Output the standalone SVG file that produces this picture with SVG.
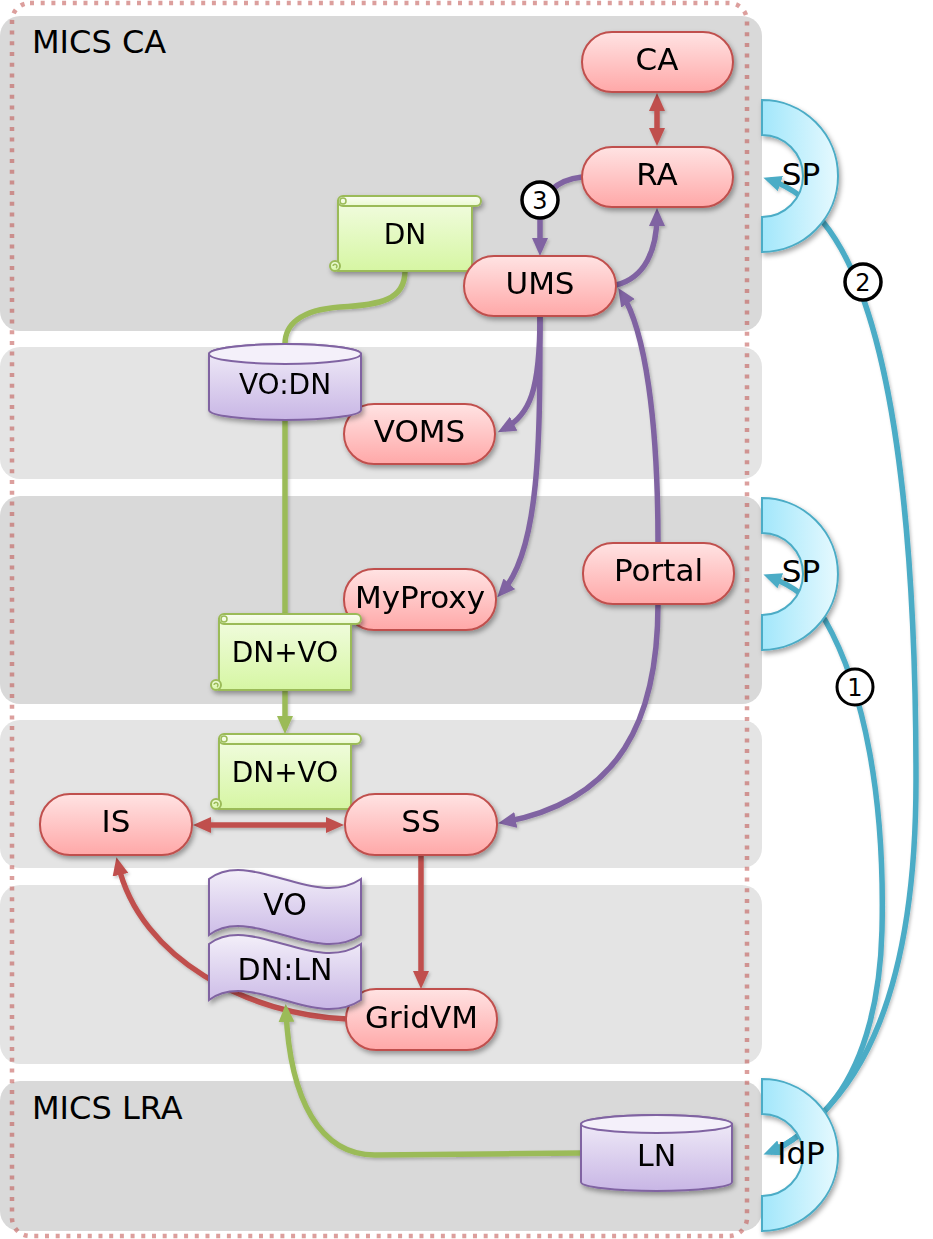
<svg xmlns="http://www.w3.org/2000/svg" width="933" height="1239" viewBox="0 0 933 1239">
  <defs>
    <linearGradient id="gPill" x1="0" y1="0" x2="0" y2="1">
      <stop offset="0" stop-color="#ffe3e3"/>
      <stop offset="1" stop-color="#ffa8a8"/>
    </linearGradient>
    <linearGradient id="gScroll" x1="0" y1="0" x2="0" y2="1">
      <stop offset="0" stop-color="#f1fcdf"/>
      <stop offset="1" stop-color="#d6f6a3"/>
    </linearGradient>
    <linearGradient id="gBar" x1="0" y1="0" x2="0" y2="1">
      <stop offset="0" stop-color="#fafef2"/>
      <stop offset="1" stop-color="#eafad0"/>
    </linearGradient>
    <linearGradient id="gLav" x1="0" y1="0" x2="0" y2="1">
      <stop offset="0" stop-color="#f3eff9"/>
      <stop offset="1" stop-color="#c8b6e5"/>
    </linearGradient>
    <linearGradient id="gRing" x1="0" y1="0" x2="1" y2="0">
      <stop offset="0" stop-color="#a2e7fb"/>
      <stop offset="1" stop-color="#e6f9fe"/>
    </linearGradient>
    <filter id="sh" x="-20%" y="-20%" width="140%" height="150%">
      <feDropShadow dx="2" dy="3" stdDeviation="2.5" flood-color="#000" flood-opacity="0.35"/>
    </filter>
    <filter id="shl" x="-10%" y="-10%" width="120%" height="120%">
      <feDropShadow dx="1.5" dy="2" stdDeviation="1.5" flood-color="#000" flood-opacity="0.22"/>
    </filter>
    <marker id="aRed" viewBox="0 0 18 16" refX="11" refY="8" markerWidth="18" markerHeight="16" markerUnits="userSpaceOnUse" orient="auto-start-reverse">
      <path d="M0,0 L18,8 L0,16 z" fill="#c0504d"/>
    </marker>
    <marker id="aPur" viewBox="0 0 18 16" refX="11" refY="8" markerWidth="18" markerHeight="16" markerUnits="userSpaceOnUse" orient="auto-start-reverse">
      <path d="M0,0 L18,8 L0,16 z" fill="#8064a2"/>
    </marker>
    <marker id="aGrn" viewBox="0 0 18 16" refX="11" refY="8" markerWidth="18" markerHeight="16" markerUnits="userSpaceOnUse" orient="auto-start-reverse">
      <path d="M0,0 L18,8 L0,16 z" fill="#9bbb59"/>
    </marker>
    <marker id="aBlu" viewBox="0 0 18 16" refX="11" refY="8" markerWidth="18" markerHeight="16" markerUnits="userSpaceOnUse" orient="auto-start-reverse">
      <path d="M0,0 L18,8 L0,16 z" fill="#4bacc6"/>
    </marker>
  </defs>
  <style>
    text { font-family: "DejaVu Sans", Verdana, sans-serif; fill: #000; }
    .lbl { font-size: 32px; }
    .nt { font-size: 31px; text-anchor: middle; }
    .st { font-size: 28px; text-anchor: middle; }
    .num { font-size: 24px; text-anchor: middle; }
    .band1 { fill: #d9d9d9; }
    .band2 { fill: #e4e4e4; }
    .pill { fill: url(#gPill); stroke: #c0504d; stroke-width: 2; }
    .scroll { fill: url(#gScroll); stroke: #9bbb59; stroke-width: 2; }
    .bar { fill: url(#gBar); stroke: #9bbb59; stroke-width: 2; }
    .curl { fill: none; stroke: #9bbb59; stroke-width: 1.5; }
    .lav { fill: url(#gLav); stroke: #8064a2; stroke-width: 2; }
    .lavtop { fill: #f4f0fa; stroke: #8064a2; stroke-width: 2; }
    .ring { fill: url(#gRing); stroke: #4bacc6; stroke-width: 2; }
    .c { fill: none; stroke-width: 5.5; }
    .red { stroke: #c0504d; }
    .pur { stroke: #8064a2; }
    .grn { stroke: #9bbb59; }
    .blu { stroke: #4bacc6; }
    .badge { fill: #fff; stroke: #000; stroke-width: 3.5; }
  </style>

  <!-- horizontal lanes -->
  <g id="lanes">
    <rect class="band1" x="0" y="16" width="762" height="315" rx="20"/>
    <rect class="band2" x="0" y="347" width="762" height="132" rx="20"/>
    <rect class="band1" x="0" y="496" width="762" height="208" rx="20"/>
    <rect class="band2" x="0" y="720" width="762" height="148" rx="20"/>
    <rect class="band2" x="0" y="885" width="762" height="179" rx="20"/>
    <rect class="band1" x="0" y="1081" width="762" height="150" rx="20"/>
    <text class="lbl" x="32" y="53">MICS CA</text>
    <text class="lbl" x="32" y="1119">MICS LRA</text>
  </g>

  <!-- dotted boundary -->
  <rect x="12" y="3" width="735" height="1233" rx="18" fill="none" stroke="#c0504d" stroke-opacity="0.55" stroke-width="4.5" stroke-dasharray="4 6.7"/>

  <!-- connectors -->
  <g id="connectors" filter="url(#shl)">
    <!-- federation flows -->
    <path id="e-sp2-idp" class="c blu" d="M770,577 Q805,590 825,620 C865,690 885,800 882,930 C880,1010 860,1070 830,1105 Q800,1140 770,1152" marker-start="url(#aBlu)" marker-end="url(#aBlu)"/>
    <path id="e-idp-sp1" class="c blu" d="M770,1152 Q800,1140 830,1105 C880,1050 916,950 916,780 C916,540 895,310 823,222 Q805,192 770,180" marker-end="url(#aBlu)"/>
    <!-- red -->
    <path id="e-ca-ra" class="c red" d="M657,100 L657,139" marker-start="url(#aRed)" marker-end="url(#aRed)"/>
    <path id="e-is-ss" class="c red" d="M200,825 H337" marker-start="url(#aRed)" marker-end="url(#aRed)"/>
    <path id="e-ss-gridvm" class="c red" d="M421,856 V982" marker-end="url(#aRed)"/>
    <path id="e-gridvm-is" class="c red" d="M347,1019 C250,1015 140,960 118,864" marker-end="url(#aRed)"/>
    <!-- purple -->
    <path id="e-ra-ums" class="c pur" d="M582,177 C556,180 540,195 540,218 L540,249" marker-end="url(#aPur)"/>
    <path id="e-ums-ra" class="c pur" d="M616,285 C645,278 657,250 657,215" marker-end="url(#aPur)"/>
    <path id="e-ums-voms" class="c pur" d="M540,316 C540,390 530,415 504,429" marker-end="url(#aPur)"/>
    <path id="e-ums-myproxy" class="c pur" d="M540,316 C540,440 540,550 502,592" marker-end="url(#aPur)"/>
    <path id="e-portal-ums" class="c pur" d="M658,543 C658,420 645,330 622,294" marker-end="url(#aPur)"/>
    <path id="e-portal-ss" class="c pur" d="M658,604 C658,720 620,800 505,822" marker-end="url(#aPur)"/>
    <!-- green -->
    <path id="e-dn-vodn" class="c grn" d="M405,271 C405,300 380,305 340,307 C300,310 285,325 285,344"/>
    <path id="e-vodn-dnvo" class="c grn" d="M285,420 L285,614"/>
    <path id="e-dnvo-dnvo" class="c grn" d="M285,690 L285,727" marker-end="url(#aGrn)"/>
    <path id="e-ln-dnln" class="c grn" d="M581,1153 L375,1155 C320,1155 290,1100 286,1011" marker-end="url(#aGrn)"/>
  </g>

  <!-- service nodes -->
  <g id="n-ca" filter="url(#sh)"><rect class="pill" x="582" y="32" width="151" height="60" rx="30"/><text class="nt" x="657" y="70">CA</text></g>
  <g id="n-ra" filter="url(#sh)"><rect class="pill" x="582" y="147" width="151" height="60" rx="30"/><text class="nt" x="657" y="185">RA</text></g>
  <g id="n-dn" filter="url(#sh)">
    <rect class="scroll" x="338" y="201" width="134" height="70"/>
    <circle class="scroll" cx="335" cy="266" r="5"/>
    <path class="curl" d="M333,266 a2,2 0 1 1 3,2"/>
    <rect class="bar" x="338" y="196" width="143" height="10" rx="5"/>
    <circle class="curl" cx="343" cy="201" r="3"/>
    <text class="st" x="405" y="244">DN</text>
  </g>
  <g id="n-ums" filter="url(#sh)"><rect class="pill" x="464" y="256" width="152" height="60" rx="30"/><text class="nt" x="540" y="294">UMS</text></g>
  <g id="n-voms" filter="url(#sh)"><rect class="pill" x="344" y="404" width="151" height="60" rx="30"/><text class="nt" x="419.5" y="442">VOMS</text></g>
  <g id="n-vodn" filter="url(#sh)">
    <path class="lav" d="M209,354 L209,410 A76,10 0 0 0 361,410 L361,354 A76,10 0 0 0 209,354 Z"/>
    <ellipse class="lavtop" cx="285" cy="354" rx="76" ry="10"/>
    <text class="st" x="285" y="394">VO:DN</text>
  </g>
  <g id="n-myproxy" filter="url(#sh)"><rect class="pill" x="344" y="569" width="152" height="61" rx="30"/><text class="nt" x="420" y="608">MyProxy</text></g>
  <g id="n-portal" filter="url(#sh)"><rect class="pill" x="583" y="543" width="151" height="61" rx="30"/><text class="nt" x="658.5" y="581">Portal</text></g>
  <g id="n-dnvo1" filter="url(#sh)">
    <rect class="scroll" x="219" y="619" width="132" height="71"/>
    <circle class="scroll" cx="216" cy="685" r="5"/>
    <path class="curl" d="M214,685 a2,2 0 1 1 3,2"/>
    <rect class="bar" x="219" y="614" width="142" height="10" rx="5"/>
    <circle class="curl" cx="224" cy="619" r="3"/>
    <text class="st" x="285" y="662">DN+VO</text>
  </g>
  <g id="n-dnvo2" filter="url(#sh)">
    <rect class="scroll" x="219" y="739" width="132" height="70"/>
    <circle class="scroll" cx="216" cy="804" r="5"/>
    <path class="curl" d="M214,804 a2,2 0 1 1 3,2"/>
    <rect class="bar" x="219" y="734" width="142" height="10" rx="5"/>
    <circle class="curl" cx="224" cy="739" r="3"/>
    <text class="st" x="285" y="782">DN+VO</text>
  </g>
  <g id="n-is" filter="url(#sh)"><rect class="pill" x="40" y="794" width="152" height="61" rx="30"/><text class="nt" x="116" y="832">IS</text></g>
  <g id="n-ss" filter="url(#sh)"><rect class="pill" x="345" y="794" width="152" height="61" rx="30"/><text class="nt" x="421" y="832">SS</text></g>
  <g id="n-gridvm" filter="url(#sh)"><rect class="pill" x="346" y="989" width="151" height="61" rx="30"/><text class="nt" x="421.5" y="1028">GridVM</text></g>
  <g id="n-vo" filter="url(#sh)">
    <path class="lav" d="M209,879 C250,848 315,910 361,879 L361,935 C315,966 250,904 209,935 Z"/>
    <text class="nt" x="285" y="915" style="font-size:30px">VO</text>
  </g>
  <g id="n-dnln" filter="url(#sh)">
    <path class="lav" d="M209,944 C250,913 315,975 361,944 L361,1000 C315,1031 250,969 209,1000 Z"/>
    <text class="nt" x="285" y="980" style="font-size:30px">DN:LN</text>
  </g>
  <g id="n-ln" filter="url(#sh)">
    <path class="lav" d="M581,1124 L581,1182 A75.5,9 0 0 0 732,1182 L732,1124 A75.5,9 0 0 0 581,1124 Z"/>
    <ellipse class="lavtop" cx="656.5" cy="1124" rx="75.5" ry="9"/>
    <text class="nt" x="656.5" y="1166" style="font-size:30px">LN</text>
  </g>

  <!-- federation endpoints -->
  <g id="n-sp1">
    <path class="ring" filter="url(#sh)" d="M762,100 A76,76 0 0 1 762,252 L762,217 A41,41 0 0 0 762,135 Z"/>
    <text class="nt" x="801" y="185">SP</text>
  </g>
  <g id="n-sp2">
    <path class="ring" filter="url(#sh)" d="M762,498 A76,76 0 0 1 762,650 L762,615 A41,41 0 0 0 762,533 Z"/>
    <text class="nt" x="801" y="582">SP</text>
  </g>
  <g id="n-idp">
    <path class="ring" filter="url(#sh)" d="M762,1079 A76,76 0 0 1 762,1231 L762,1196 A41,41 0 0 0 762,1114 Z"/>
    <text class="nt" x="801" y="1164">IdP</text>
  </g>

  <!-- step numbers -->
  <g id="step-3"><circle class="badge" cx="540" cy="200" r="18"/><text class="num" x="540" y="209">3</text></g>
  <g id="step-2"><circle class="badge" cx="863" cy="282" r="18"/><text class="num" x="863" y="291">2</text></g>
  <g id="step-1"><circle class="badge" cx="855" cy="687" r="18" style="stroke-width:3"/><text class="num" x="855" y="696">1</text></g>
</svg>
